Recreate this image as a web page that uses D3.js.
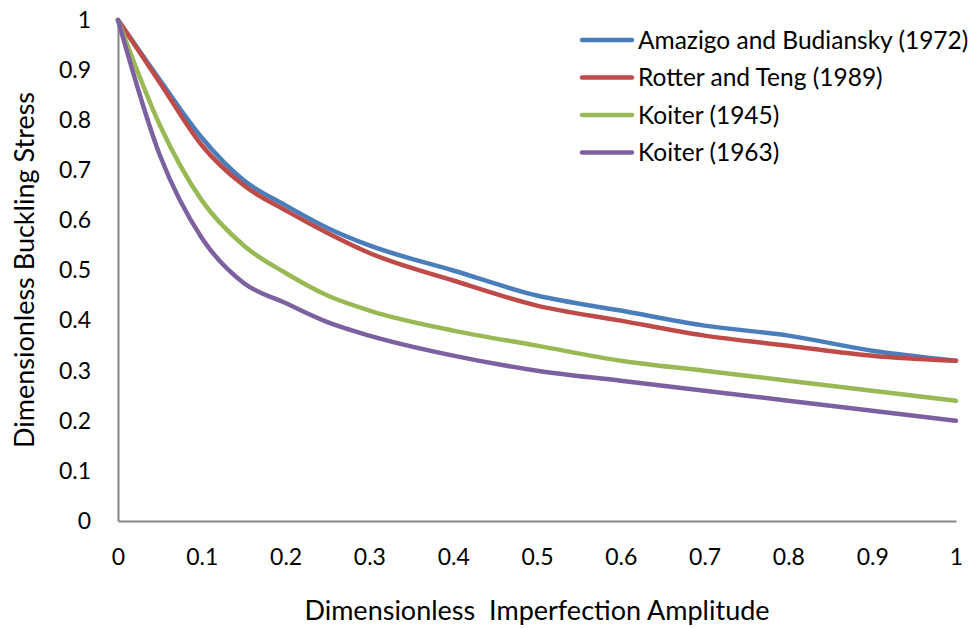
<!DOCTYPE html>
<html>
<head>
<meta charset="utf-8">
<script src="https://cdn.jsdelivr.net/npm/d3@7"></script>
<style>
  html, body { margin: 0; padding: 0; background: #fff; }
  svg text { font-family: "Lato", "Open Sans", sans-serif; fill: #000; }
</style>
</head>
<body>
<svg id="chart" width="974" height="628"></svg>
<script>
// Imperfection amplitude sample points
const amplitude = [0, 0.05, 0.1, 0.15, 0.2, 0.25, 0.3, 0.4, 0.5, 0.6, 0.7, 0.8, 0.9, 1.0];

// Knockdown factors per model
const amazigo1972 = [1, 0.88, 0.765, 0.68, 0.63, 0.585, 0.55, 0.50, 0.45, 0.42, 0.39, 0.37, 0.34, 0.32];
const rotter1989  = [1, 0.875, 0.75, 0.67, 0.62, 0.575, 0.535, 0.48, 0.43, 0.40, 0.37, 0.35, 0.33, 0.32];
const koiter1945  = [1, 0.79, 0.64, 0.55, 0.495, 0.45, 0.42, 0.38, 0.35, 0.32, 0.30, 0.28, 0.26, 0.24];
const koiter1963  = [1, 0.73, 0.565, 0.475, 0.435, 0.397, 0.37, 0.33, 0.30, 0.28, 0.26, 0.24, 0.22, 0.20];

const seriesNames = ["Amazigo and Budiansky (1972)", "Rotter and Teng (1989)", "Koiter (1945)", "Koiter (1963)"];
const seriesColors = ["#4A7EBB", "#BE4B48", "#98B954", "#7D60A0"];
const seriesValues = [amazigo1972, rotter1989, koiter1945, koiter1963];

const xTicks = [0, 0.1, 0.2, 0.3, 0.4, 0.5, 0.6, 0.7, 0.8, 0.9, 1];
const yTicks = [0, 0.1, 0.2, 0.3, 0.4, 0.5, 0.6, 0.7, 0.8, 0.9, 1];

const svg = d3.select("#chart");
const x = d3.scaleLinear().domain([0, 1]).range([118, 956]);
const y = d3.scaleLinear().domain([0, 1]).range([521, 20]);

// Axes (no tick marks, gray domain line)
const xAxis = svg.append("g").attr("transform", `translate(0,${y(0)})`)
  .call(d3.axisBottom(x).tickValues(xTicks).tickSize(0).tickPadding(36).tickFormat(d3.format("~g")));
const yAxis = svg.append("g").attr("transform", `translate(${x(0)},0)`)
  .call(d3.axisLeft(y).tickValues(yTicks).tickSize(0).tickPadding(27).tickFormat(d3.format("~g")));
[xAxis, yAxis].forEach(g => {
  g.select(".domain").attr("stroke", "#868686").attr("stroke-width", 2);
  g.selectAll("text").style("font-size", "23px");
});
xAxis.selectAll("text").attr("dy", "0.35em");

// Curves
const line = d3.line()
  .x((d, i) => x(amplitude[i]))
  .y(d => y(d))
  .curve(d3.curveMonotoneX);

seriesValues.forEach((vals, k) => {
  svg.append("path")
    .datum(vals)
    .attr("d", line)
    .attr("fill", "none")
    .attr("stroke", seriesColors[k])
    .attr("stroke-width", 4.5)
    .attr("stroke-linecap", "round")
    .attr("stroke-linejoin", "round");
});

// Legend
const legend = svg.append("g").attr("transform", "translate(580,40)");
seriesNames.forEach((name, k) => {
  const g = legend.append("g").attr("transform", `translate(0,${k * 37.5})`);
  g.append("line").attr("x1", 2).attr("x2", 52).attr("y1", 0).attr("y2", 0)
    .attr("stroke", seriesColors[k]).attr("stroke-width", 4.5).attr("stroke-linecap", "round");
  g.append("text").attr("x", 58).attr("y", 0).attr("dy", "0.35em")
    .style("font-size", "24.5px").text(name);
});

// Axis titles
svg.append("text").attr("x", 537).attr("y", 611).attr("dy", "0.35em").attr("text-anchor", "middle")
  .style("font-size", "27px").style("white-space", "pre")
  .text("Dimensionless  Imperfection Amplitude");
svg.append("text").attr("transform", "translate(25,270) rotate(-90)")
  .attr("dy", "0.35em").attr("text-anchor", "middle").style("font-size", "27px")
  .text("Dimensionless Buckling Stress");
</script>
</body>
</html>
